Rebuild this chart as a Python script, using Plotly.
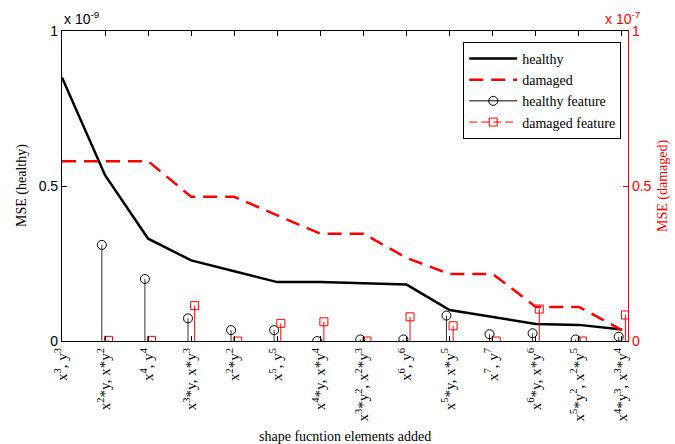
import plotly.graph_objects as go

categories = [
    "x<sup>3</sup>, y<sup>3</sup>",
    "x<sup>2</sup>*y, x*y<sup>2</sup>",
    "x<sup>4</sup>, y<sup>4</sup>",
    "x<sup>3</sup>*y, x*y<sup>3</sup>",
    "x<sup>2</sup>*y<sup>2</sup>",
    "x<sup>5</sup>, y<sup>5</sup>",
    "x<sup>4</sup>*y, x*y<sup>4</sup>",
    "x<sup>3</sup>*y<sup>2</sup>, x<sup>2</sup>*y<sup>3</sup>",
    "x<sup>6</sup>, y<sup>6</sup>",
    "x<sup>5</sup>*y, x*y<sup>5</sup>",
    "x<sup>7</sup>, y<sup>7</sup>",
    "x<sup>6</sup>*y, x*y<sup>6</sup>",
    "x<sup>5</sup>*y<sup>2</sup>, x<sup>2</sup>*y<sup>5</sup>",
    "x<sup>4</sup>*y<sup>3</sup>, x<sup>3</sup>*y<sup>4</sup>",
]
# healthy in units of 1e-9, damaged in units of 1e-7
healthy = [0.85, 0.535, 0.33, 0.26, 0.225, 0.19, 0.19, 0.187, 0.182, 0.10, 0.078, 0.055, 0.052, 0.037]
damaged = [0.58, 0.58, 0.58, 0.465, 0.465, 0.405, 0.346, 0.346, 0.268, 0.216, 0.216, 0.11, 0.11, 0.035]
feat_idx = list(range(1, 14))
healthy_feature = [0.31, 0.2, 0.073, 0.035, 0.035, 0.0, 0.005, 0.005, 0.082, 0.022, 0.025, 0.005, 0.014]
damaged_feature = [0.002, 0.002, 0.114, 0.0, 0.057, 0.062, 0.0, 0.078, 0.049, 0.0, 0.103, 0.0, 0.084]
H_OFF, D_OFF = -0.075, 0.08

x = list(range(len(categories)))

def stems(xs, ys):
    sx, sy = [], []
    for a, b in zip(xs, ys):
        sx += [a, a, None]
        sy += [0, b, None]
    return sx, sy

hx = [i + H_OFF for i in feat_idx]
dx = [i + D_OFF for i in feat_idx]

fig = go.Figure()
shx, shy = stems(hx, healthy_feature)
sdx, sdy = stems(dx, damaged_feature)

fig.add_trace(go.Scatter(x=shx, y=shy, mode="lines", line=dict(color="#333", width=1),
                         showlegend=False, yaxis="y"))
fig.add_trace(go.Scatter(x=sdx, y=sdy, mode="lines", line=dict(color="red", width=1),
                         showlegend=False, yaxis="y2"))

fig.add_trace(go.Scatter(x=x, y=healthy, mode="lines", name="healthy",
                         line=dict(color="black", width=2.5), yaxis="y"))
fig.add_trace(go.Scatter(x=x, y=damaged, mode="lines", name="damaged",
                         line=dict(color="red", width=2.5, dash="14px,8px"), yaxis="y2"))
fig.add_trace(go.Scatter(x=hx, y=healthy_feature, mode="markers", name="healthy feature",
                         marker=dict(symbol="circle-open", size=9, color="black", line=dict(width=1)),
                         yaxis="y", showlegend=False))
fig.add_trace(go.Scatter(x=[None], y=[None], mode="lines+markers", name="healthy feature",
                         line=dict(color="black", width=1),
                         marker=dict(symbol="circle-open", size=9, color="black", line=dict(width=1)),
                         yaxis="y"))
fig.add_trace(go.Scatter(x=dx, y=damaged_feature, mode="markers", name="damaged feature",
                         marker=dict(symbol="square-open", size=8, color="red", line=dict(width=1)),
                         yaxis="y2", showlegend=False))
fig.add_trace(go.Scatter(x=[None], y=[None], mode="lines+markers", name="damaged feature",
                         line=dict(color="red", width=1, dash="8px,4px"),
                         marker=dict(symbol="square-open", size=8, color="red", line=dict(width=1)),
                         yaxis="y2"))

tickfont = dict(family="Liberation Sans, Arial", size=14, color="black")
fig.update_layout(
    width=675, height=444,
    margin=dict(l=62, r=47, t=31, b=103),
    plot_bgcolor="white", paper_bgcolor="white",
    xaxis=dict(range=[0, 13.14], tickmode="array", tickvals=x, ticktext=categories,
               tickangle=-90, showline=True, linecolor="black", linewidth=1.2, mirror="ticks",
               ticks="inside", ticklen=5, tickcolor="black", showgrid=False, zeroline=False,
               tickfont=dict(family="Liberation Serif, Times New Roman", size=15, color="black")),
    yaxis=dict(range=[0, 1], tickvals=[0, 0.5, 1], ticktext=["0", "0.5", "1"],
               showline=True, linecolor="black", linewidth=1.2, ticks="inside", ticklen=5,
               tickcolor="black", showgrid=False, zeroline=False, tickfont=tickfont),
    yaxis2=dict(range=[0, 1], tickvals=[0, 0.5, 1], ticktext=["0", "0.5", "1"],
                overlaying="y", side="right", showline=True, linecolor="red", linewidth=1.2,
                ticks="inside", ticklen=5, tickcolor="red", showgrid=False, zeroline=False,
                tickfont=dict(family="Liberation Sans, Arial", size=14, color="red")),
    legend=dict(x=0.988, y=0.965, xanchor="right", yanchor="top", bgcolor="white",
                bordercolor="black", borderwidth=1,
                font=dict(family="Liberation Serif, Times New Roman", size=14, color="black"),
                tracegroupgap=0, itemwidth=48),
    showlegend=True,
)
fig.add_annotation(text="x 10<sup>-9</sup>", xref="paper", yref="paper", x=0, y=1.0,
                   xanchor="left", yanchor="bottom", showarrow=False, yshift=2,
                   font=dict(family="Liberation Sans, Arial", size=14, color="black"))
fig.add_annotation(text="x 10<sup>-7</sup>", xref="paper", yref="paper", x=1.0, y=1.0,
                   xanchor="center", yanchor="bottom", showarrow=False, yshift=2, xshift=-6,
                   font=dict(family="Liberation Sans, Arial", size=14, color="red"))
fig.add_annotation(text="MSE (healthy)", xref="paper", yref="paper", x=0, y=0.5,
                   xanchor="center", yanchor="middle", showarrow=False, xshift=-40, textangle=-90,
                   font=dict(family="Liberation Serif, Times New Roman", size=14, color="black"))
fig.add_annotation(text="MSE (damaged)", xref="paper", yref="paper", x=1, y=0.5,
                   xanchor="center", yanchor="middle", showarrow=False, xshift=35, textangle=-90,
                   font=dict(family="Liberation Serif, Times New Roman", size=14, color="red"))
fig.add_annotation(text="shape fucntion elements added", xref="paper", yref="paper", x=0.5, y=0,
                   xanchor="center", yanchor="middle", showarrow=False, yshift=-95,
                   font=dict(family="Liberation Serif, Times New Roman", size=14, color="black"))

fig.write_html("out.html")
